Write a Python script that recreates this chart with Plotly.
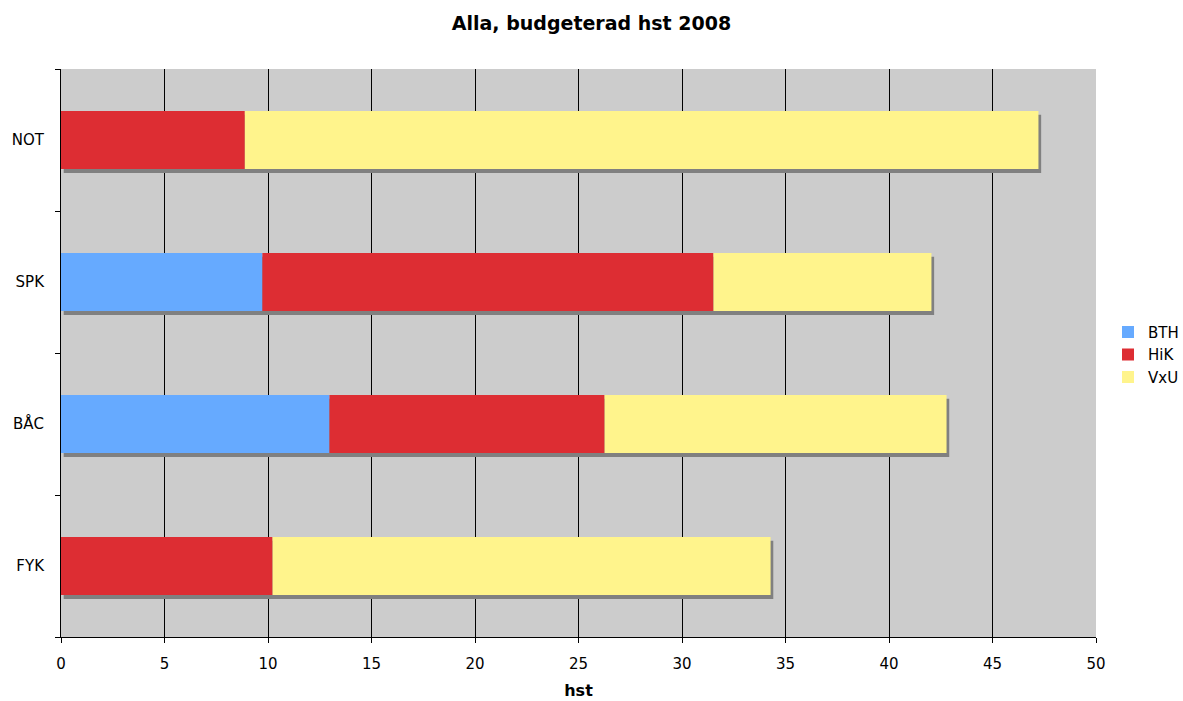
import numpy as np
import plotly.graph_objects as go

# Categories (bottom to top as drawn by the y axis)
categories = ["FYK", "BÅC", "SPK", "NOT"]

# Budgeted hst per institution
bth = [0.0, 12.97, 9.73, 0.0]
hik = [10.22, 13.29, 21.79, 8.88]
vxu = [24.06, 16.52, 10.53, 38.34]

series_names = ["BTH", "HiK", "VxU"]
series_colors = ["#66AAFF", "#DD2D33", "#FFF48C"]

x_ticks = [0, 5, 10, 15, 20, 25, 30, 35, 40, 45, 50]

FONT = "DejaVu Sans, Verdana, sans-serif"
BAR_WIDTH = 0.41

series = [np.array(bth), np.array(hik), np.array(vxu)]
totals = sum(series)
bases = np.cumsum([np.zeros(len(categories))] + series[:-1], axis=0)

fig = go.Figure()

# Drop shadow behind each stacked bar (a few pixels right and below)
fig.add_trace(go.Bar(
    y=categories, x=totals, base=0.13, orientation="h",
    width=BAR_WIDTH, offset=-BAR_WIDTH / 2 - 0.028,
    marker=dict(color="#808080", line=dict(width=0)),
    showlegend=False, hoverinfo="skip",
))

for name, color, vals, base in zip(series_names, series_colors, series, bases):
    fig.add_trace(go.Bar(
        y=categories, x=vals, base=base, orientation="h", name=name,
        width=BAR_WIDTH,
        marker=dict(color=color, line=dict(width=0)),
    ))

fig.update_layout(
    width=1183, height=701,
    margin=dict(l=61, r=87, t=69, b=64, autoexpand=False),
    barmode="overlay",
    paper_bgcolor="white",
    plot_bgcolor="#CCCCCC",
    font=dict(family=FONT, size=15, color="#000000"),
    title=dict(
        text="<b>Alla, budgeterad hst 2008</b>",
        x=0.5, xanchor="center", y=0.967, yanchor="middle",
        font=dict(family=FONT, size=19, color="#000000"),
    ),
    legend=dict(
        x=1.0116, xanchor="left", y=0.497, yanchor="middle",
        font=dict(family=FONT, size=15),
        bgcolor="rgba(0,0,0,0)", itemwidth=30, tracegroupgap=0,
    ),
    xaxis=dict(
        range=[0, 50], tickvals=x_ticks, ticktext=[str(t) for t in x_ticks],
        showgrid=True, gridcolor="#000000", gridwidth=1,
        showline=True, linecolor="#000000", linewidth=1,
        ticks="outside", ticklen=5, tickcolor="#000000",
        ticklabelstandoff=8,
        zeroline=False,
        title=dict(text="<b>hst</b>", font=dict(family=FONT, size=16), standoff=12),
        fixedrange=True,
    ),
    yaxis=dict(
        type="category", categoryorder="array", categoryarray=categories,
        range=[-0.5, 3.5],
        showgrid=False,
        showline=True, linecolor="#000000", linewidth=1,
        ticks="outside", ticklen=5, tickcolor="#000000",
        tickson="boundaries", ticklabelstandoff=13,
        zeroline=False, fixedrange=True,
    ),
)

fig.write_html("out.html")
